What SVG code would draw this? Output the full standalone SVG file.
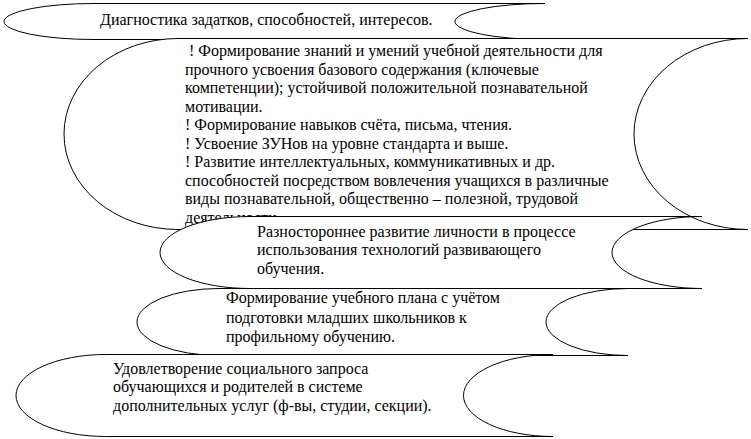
<svg xmlns="http://www.w3.org/2000/svg" width="751" height="439" viewBox="0 0 751 439">
<style>
.s{fill:#fff;stroke:#000;stroke-width:1}
.t{font-family:"Liberation Serif","Times New Roman",serif;font-size:16px;fill:#000}
</style>
<rect width="751" height="439" fill="#fff"/>
<g id="connectors"></g>
<g id="node1">
<path class="s" d="M94,3.5 L545,3.5 A90,18 0 0 0 545,39.5 L94,39.5 A90,18 0 0 1 94,3.5 Z"/>
<text class="t" x="100" y="25">Диагностика задатков, способностей, интересов.</text>
</g>
<g id="node2">
<path class="s" d="M178,38.5 L748,38.5 A114,95.5 0 0 0 748,229.5 L178,229.5 A114,95.5 0 0 1 178,38.5 Z"/>
<text class="t" x="189" y="56">! Формирование знаний и умений учебной деятельности для</text>
<text class="t" x="185" y="74.5">прочного усвоения базового содержания (ключевые</text>
<text class="t" x="185" y="93">компетенции); устойчивой положительной познавательной</text>
<text class="t" x="185" y="111.5">мотивации.</text>
<text class="t" x="185" y="130">! Формирование навыков счёта, письма, чтения.</text>
<text class="t" x="185" y="148.5">! Усвоение ЗУНов на уровне стандарта и выше.</text>
<text class="t" x="185" y="167">! Развитие интеллектуальных, коммуникативных и др.</text>
<text class="t" x="185" y="185.5">способностей посредством вовлечения учащихся в различные</text>
<text class="t" x="185" y="204">виды познавательной, общественно – полезной, трудовой</text>
<text class="t" x="185" y="222.5">деятельности.</text>
</g>
<g id="node3">
<path class="s" d="M250,216.5 L702,216.5 A90,36 0 0 0 702,288.5 L250,288.5 A90,36 0 0 1 250,216.5 Z"/>
<text class="t" x="257" y="236.5">Разностороннее развитие личности в процессе</text>
<text class="t" x="257" y="255">использования технологий развивающего</text>
<text class="t" x="257" y="273.5">обучения.</text>
</g>
<g id="node4">
<path class="s" d="M219,288.5 L628,288.5 A82,33.5 0 0 0 628,355.5 L219,355.5 A82,33.5 0 0 1 219,288.5 Z"/>
<text class="t" x="226" y="303">Формирование учебного плана с учётом</text>
<text class="t" x="226" y="322.5">подготовки младших школьников к</text>
<text class="t" x="226" y="342">профильному обучению.</text>
</g>
<g id="node5">
<path class="s" d="M105.5,354.5 L553,354.5 A89.5,41 0 0 0 553,436.5 L105.5,436.5 A89.5,41 0 0 1 105.5,354.5 Z"/>
<text class="t" x="113" y="373.5">Удовлетворение социального запроса</text>
<text class="t" x="113" y="392">обучающихся и родителей в системе</text>
<text class="t" x="113" y="410.5">дополнительных услуг (ф-вы, студии, секции).</text>
</g>
</svg>
